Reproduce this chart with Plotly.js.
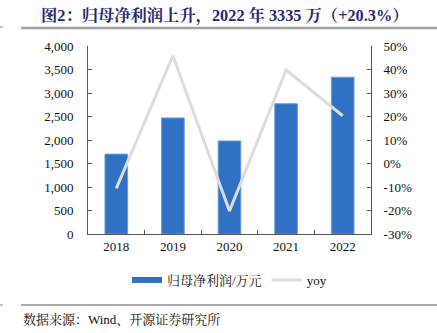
<!DOCTYPE html>
<html>
<head>
<meta charset="utf-8">
<script src="https://cdn.plot.ly/plotly-3.0.1.min.js"></script>
<style>
html,body{margin:0;padding:0;background:#fff;}
#chart{width:437px;height:333px;}
</style>
</head>
<body>
<div id="chart"></div>
<script>
const years = ["2018", "2019", "2020", "2021", "2022"];
const netProfit = [1700, 2470, 1980, 2770, 3335];
const yoy = [-10.6, 45.9, -20.2, 39.8, 20.3];
const leftTicks = [0, 500, 1000, 1500, 2000, 2500, 3000, 3500, 4000];
const rightTicks = [-30, -20, -10, 0, 10, 20, 30, 40, 50];

const serif = '"Liberation Serif", "Times New Roman", "Noto Sans CJK SC", serif';
const cjk = '"Liberation Serif", "Noto Serif CJK SC", "Noto Sans CJK SC", serif';
const barColor = '#2f72c4';

const traces = [
  {
    type: 'bar', x: years, y: netProfit, name: '归母净利润/万元',
    marker: {color: barColor, line: {color: '#6a9be0', width: 1}},
    yaxis: 'y', showlegend: false
  },
  {
    type: 'scatter', mode: 'lines', x: [null], y: [null], name: '归母净利润/万元',
    line: {color: barColor, width: 6}, yaxis: 'y', hoverinfo: 'skip'
  },
  {
    type: 'scatter', mode: 'lines', x: years, y: yoy, name: 'yoy',
    line: {color: '#dcdcdc', width: 3},
    yaxis: 'y2'
  }
];

const plotW = 437 - 88 - 66;
const plotH = 333 - 46 - 99;
const px = v => (v - 88) / plotW;
const py = v => (234 - v) / plotH;

const layout = {
  width: 437, height: 333,
  margin: {l: 88, r: 66, t: 46, b: 99},
  paper_bgcolor: '#fff', plot_bgcolor: '#fff',
  showlegend: true,
  bargap: 0.6,
  font: {family: serif, size: 13, color: '#111'},
  title: {
    text: '<b>图2：归母净利润上升，2022 年 3335 万（+20.3%）</b>',
    xref: 'container', x: 41 / 437, xanchor: 'left',
    yref: 'container', y: 1 - 15 / 333, yanchor: 'middle',
    font: {family: cjk, size: 16.3, color: '#1f2a78'}
  },
  legend: {
    orientation: 'h', x: 0.5, xanchor: 'center', y: py(265), yanchor: 'top',
    font: {family: cjk, size: 13, color: '#111'}, itemwidth: 30, tracegroupgap: 0
  },
  xaxis: {
    type: 'category', showline: true, linecolor: '#555', linewidth: 1,
    ticks: 'inside', tickson: 'boundaries', ticklen: 4, tickcolor: '#555',
    showgrid: false, zeroline: false,
    tickfont: {family: serif, size: 13, color: '#111'}
  },
  yaxis: {
    range: [0, 4000], tickvals: leftTicks,
    ticktext: leftTicks.map(v => v.toLocaleString('en-US')),
    showline: true, linecolor: '#555', linewidth: 1,
    ticks: 'inside', ticklen: 4, tickcolor: '#555',
    showgrid: false, zeroline: false, ticklabelstandoff: 11,
    tickfont: {family: serif, size: 13, color: '#111'}
  },
  yaxis2: {
    overlaying: 'y', side: 'right', range: [-30, 50], tickvals: rightTicks,
    ticktext: rightTicks.map(v => v + '%'),
    showline: true, linecolor: '#555', linewidth: 1,
    ticks: 'inside', ticklen: 4, tickcolor: '#555',
    showgrid: false, zeroline: false, ticklabelstandoff: 9,
    tickfont: {family: serif, size: 13, color: '#111'}
  },
  annotations: [
    {text: '数据来源：Wind、开源证券研究所', xref: 'paper', yref: 'paper',
     x: px(21), xanchor: 'left', y: py(319), yanchor: 'middle', showarrow: false,
     font: {family: cjk, size: 13, color: '#111'}}
  ],
  shapes: [
    {type: 'line', xref: 'paper', yref: 'paper', x0: px(21), x1: px(437), y0: py(28), y1: py(28),
     line: {color: '#a0a0a0', width: 2.5}},
    {type: 'line', xref: 'paper', yref: 'paper', x0: px(21), x1: px(437), y0: py(305), y1: py(305),
     line: {color: '#555', width: 1}},
    {type: 'line', xref: 'paper', yref: 'paper', x0: px(0), x1: px(3), y0: py(27), y1: py(27),
     line: {color: '#b0b0b0', width: 1.5}},
    {type: 'line', xref: 'paper', yref: 'paper', x0: px(0), x1: px(3), y0: py(305), y1: py(305),
     line: {color: '#888', width: 1}}
  ]
};

Plotly.newPlot('chart', traces, layout, {displayModeBar: false, staticPlot: true});
</script>
</body>
</html>
